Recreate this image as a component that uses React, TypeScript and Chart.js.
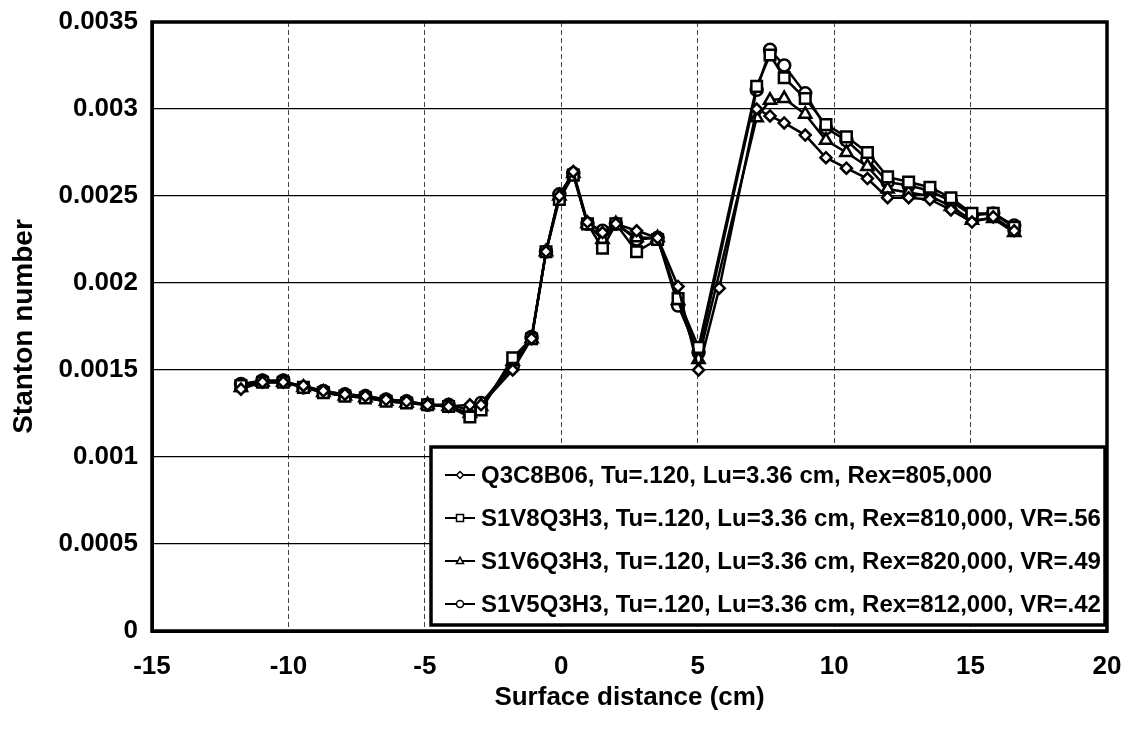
import React, { useEffect, useRef } from 'react';
import { Chart, registerables } from 'chart.js';

Chart.register(...registerables);

// ---------- data ----------
const seriesLabels = [
  'Q3C8B06, Tu=.120, Lu=3.36 cm, Rex=805,000',
  'S1V8Q3H3, Tu=.120, Lu=3.36 cm, Rex=810,000, VR=.56',
  'S1V6Q3H3, Tu=.120, Lu=3.36 cm, Rex=820,000, VR=.49',
  'S1V5Q3H3, Tu=.120, Lu=3.36 cm, Rex=812,000, VR=.42',
];

const xQ3C8B06 = [
  -11.74, -10.95, -10.19, -9.45, -8.72, -7.93, -7.18, -6.42, -5.67, -4.9, -4.13, -3.35, -2.94,
  -1.78, -1.09, -0.56, -0.07, 0.44, 0.96, 1.51, 2.0, 2.76, 3.53, 4.28, 5.03, 5.79,
  7.16, 7.65, 8.17, 8.94, 9.7, 10.45, 11.22, 11.96, 12.73, 13.51, 14.28, 15.05, 15.83, 16.6,
];
const yQ3C8B06 = [
  0.00139, 0.00143, 0.00143, 0.00141, 0.00138, 0.00136, 0.00135, 0.00133, 0.00132, 0.0013, 0.00129, 0.0013, 0.0013,
  0.0015, 0.00168, 0.00218, 0.0025, 0.00264, 0.00235, 0.00229, 0.00234, 0.0023, 0.00226, 0.00198, 0.0015, 0.00197,
  0.003, 0.00296, 0.00292, 0.00285, 0.00272, 0.00266, 0.0026, 0.00249, 0.00249, 0.00248, 0.00242, 0.00235, 0.00238, 0.0023,
];

const xVR = [
  -11.74, -10.95, -10.19, -9.45, -8.72, -7.93, -7.18, -6.42, -5.67, -4.9, -4.13, -3.35, -2.94,
  -1.78, -1.09, -0.56, -0.07, 0.44, 0.96, 1.51, 2.0, 2.76, 3.53, 4.28, 5.03,
  7.16, 7.65, 8.17, 8.94, 9.7, 10.45, 11.22, 11.96, 12.73, 13.51, 14.28, 15.05, 15.83, 16.6,
];
const yS1V8Q3H3 = [
  0.00141, 0.00143, 0.00143, 0.0014, 0.00137, 0.00135, 0.00134, 0.00132, 0.00131, 0.0013, 0.00129, 0.00123, 0.00127,
  0.00157, 0.00168, 0.00218, 0.00248, 0.00262, 0.00234, 0.0022, 0.00234, 0.00218, 0.00225, 0.00191, 0.00163,
  0.00313, 0.00331, 0.00318, 0.00306, 0.00291, 0.00284, 0.00275, 0.00261, 0.00258, 0.00255, 0.00249, 0.0024, 0.0024, 0.00232,
];
const yS1V6Q3H3 = [
  0.0014, 0.00143, 0.00143, 0.0014, 0.00137, 0.00135, 0.00134, 0.00132, 0.00131, 0.0013, 0.00129, 0.00125, 0.00129,
  0.00155, 0.00168, 0.00218, 0.0025, 0.00263, 0.00234, 0.00225, 0.00234, 0.00226, 0.00226, 0.0019, 0.00156,
  0.00295, 0.00305, 0.00306, 0.00297, 0.00282, 0.00275, 0.00267, 0.00254, 0.00252, 0.0025, 0.00244, 0.00236, 0.00237, 0.00229,
];
const yS1V5Q3H3 = [
  0.00142, 0.00144, 0.00144, 0.0014, 0.00138, 0.00136, 0.00135, 0.00133, 0.00132, 0.0013, 0.0013, 0.00127, 0.00131,
  0.00152, 0.00169, 0.00218, 0.00251, 0.00263, 0.00234, 0.0023, 0.00234, 0.00225, 0.00226, 0.00187, 0.0016,
  0.00311, 0.00334, 0.00325, 0.00309, 0.00289, 0.00282, 0.00271, 0.00258, 0.00256, 0.00253, 0.00247, 0.00239, 0.0024, 0.00233,
];

const xTickValues = [-15, -10, -5, 0, 5, 10, 15, 20];
const yTickValues = [0, 0.0005, 0.001, 0.0015, 0.002, 0.0025, 0.003, 0.0035];

const pointStyles = ['rectRot', 'rect', 'triangle', 'circle'];
const pointRadii = [5.5, 7.5, 7, 6];
const FONT = "'Liberation Sans', Arial, Helvetica, sans-serif";

const toPoints = (xs: number[], ys: number[]) => xs.map((x, i) => ({ x, y: ys[i] }));

function drawMarker(ctx: CanvasRenderingContext2D, style: string, x: number, y: number, r: number) {
  ctx.beginPath();
  if (style === 'circle') {
    ctx.arc(x, y, r, 0, Math.PI * 2);
  } else if (style === 'rect') {
    ctx.rect(x - r, y - r, 2 * r, 2 * r);
  } else if (style === 'triangle') {
    ctx.moveTo(x, y - r * 1.1);
    ctx.lineTo(x + r, y + r * 0.7);
    ctx.lineTo(x - r, y + r * 0.7);
    ctx.closePath();
  } else {
    ctx.moveTo(x, y - r);
    ctx.lineTo(x + r, y);
    ctx.lineTo(x, y + r);
    ctx.lineTo(x - r, y);
    ctx.closePath();
  }
  ctx.fillStyle = '#fff';
  ctx.fill();
  ctx.stroke();
}

const framePlugin = {
  id: 'frame',
  afterDatasetsDraw(chart: any) {
    const { ctx, chartArea: a } = chart;
    ctx.save();
    ctx.strokeStyle = '#000';
    ctx.lineWidth = 3.5;
    ctx.strokeRect(a.left, a.top, a.right - a.left, a.bottom - a.top);
    ctx.restore();
  },
};

const legendPlugin = {
  id: 'boxLegend',
  afterDraw(chart: any) {
    const { ctx, chartArea: a } = chart;
    const right = a.right - 2;
    const bottom = a.bottom - 6;
    const w = 674;
    const h = 178;
    const left = right - w;
    const top = bottom - h;
    ctx.save();
    ctx.fillStyle = '#fff';
    ctx.fillRect(left, top, w, h);
    ctx.strokeStyle = '#000';
    ctx.lineWidth = 3.5;
    ctx.strokeRect(left, top, w, h);
    ctx.beginPath();
    ctx.rect(left + 2, top + 2, w - 4, h - 4);
    ctx.clip();
    chart.data.datasets.forEach((ds: any, i: number) => {
      const cy = top + 28 + i * 43;
      ctx.strokeStyle = '#000';
      ctx.lineWidth = 2;
      ctx.beginPath();
      ctx.moveTo(left + 14, cy);
      ctx.lineTo(left + 44, cy);
      ctx.stroke();
      ctx.lineWidth = 1.5;
      drawMarker(ctx, ds.pointStyle, left + 29, cy, 3.5);
      ctx.fillStyle = '#000';
      ctx.font = `bold 24px ${FONT}`;
      ctx.textBaseline = 'middle';
      ctx.textAlign = 'left';
      ctx.fillText(ds.label, left + 50, cy + 1);
    });
    ctx.restore();
  },
};

export default function App() {
  const canvasRef = useRef<HTMLCanvasElement | null>(null);

  useEffect(() => {
    document.body.style.margin = '0';
    const canvas = canvasRef.current;
    if (!canvas) return;

    const seriesX = [xQ3C8B06, xVR, xVR, xVR];
    const seriesY = [yQ3C8B06, yS1V8Q3H3, yS1V6Q3H3, yS1V5Q3H3];

    const datasets = seriesLabels.map((label, i) => ({
      label,
      data: toPoints(seriesX[i], seriesY[i]),
      showLine: true,
      borderColor: '#000',
      borderWidth: 2.5,
      backgroundColor: '#fff',
      pointStyle: pointStyles[i],
      pointRadius: pointRadii[i],
      pointBorderWidth: 2.5,
      pointBorderColor: '#000',
      pointBackgroundColor: '#fff',
      tension: 0,
    }));

    const chart = new Chart(canvas, {
      type: 'scatter',
      data: { datasets },
      options: {
        animation: false,
        responsive: false,
        devicePixelRatio: 1,
        layout: { padding: { left: 0, top: 22, right: 25, bottom: 0 } },
        plugins: {
          legend: { display: false },
          tooltip: { enabled: false },
        },
        scales: {
          x: {
            type: 'linear',
            min: xTickValues[0],
            max: xTickValues[xTickValues.length - 1],
            afterBuildTicks: (scale: any) => {
              scale.ticks = xTickValues.map((v) => ({ value: v }));
            },
            afterFit: (scale: any) => {
              scale.height = 99;
              scale.paddingLeft = 0;
              scale.paddingRight = 0;
            },
            grid: { color: '#444', lineWidth: 1, drawTicks: false },
            border: { display: true, color: '#000', width: 3, dash: [5, 3] },
            ticks: {
              color: '#000',
              font: { family: FONT, size: 26, weight: 'bold' },
              padding: 20,
              maxRotation: 0,
              autoSkip: false,
              callback: (v: any) => String(v),
            },
            title: {
              display: true,
              text: 'Surface distance (cm)',
              color: '#000',
              font: { family: FONT, size: 26, weight: 'bold' },
              padding: { top: 0, bottom: 17 },
            },
          },
          y: {
            type: 'linear',
            min: yTickValues[0],
            max: yTickValues[yTickValues.length - 1],
            afterBuildTicks: (scale: any) => {
              scale.ticks = yTickValues.map((v) => ({ value: v }));
            },
            afterFit: (scale: any) => {
              scale.width = 152;
              scale.paddingTop = 0;
              scale.paddingBottom = 0;
            },
            grid: { color: '#000', lineWidth: 1.3, drawTicks: false },
            border: { display: true, color: '#000', width: 3 },
            ticks: {
              color: '#000',
              font: { family: FONT, size: 26, weight: 'bold' },
              padding: 14,
              callback: (v: any) => String(Number(Number(v).toFixed(4))),
            },
            title: {
              display: true,
              text: 'Stanton number',
              color: '#000',
              font: { family: FONT, size: 28, weight: 'bold' },
              padding: { top: 7, bottom: 0 },
            },
          },
        },
      } as any,
      plugins: [framePlugin, legendPlugin],
    });

    return () => chart.destroy();
  }, []);

  return (
    <div style={{ width: 1132, height: 730, background: '#fff' }}>
      <canvas ref={canvasRef} width={1132} height={730} />
    </div>
  );
}
